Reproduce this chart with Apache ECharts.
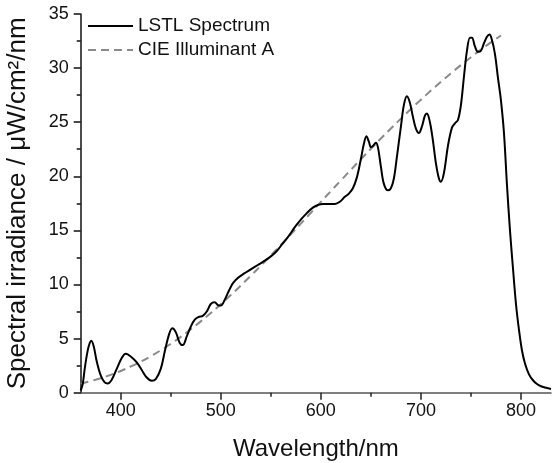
<!DOCTYPE html>
<html>
<head>
<meta charset="utf-8">
<script src="https://cdn.jsdelivr.net/npm/echarts@6/dist/echarts.min.js"></script>
<style>html,body{margin:0;padding:0;background:#fff;}#c{width:552px;height:463px;}</style>
</head>
<body>
<div id="c"></div>
<script>
// LSTL spectrum (wavelength nm, irradiance)
const lstlWavelength = [360,362,364,366,368,370.5,373,376,380,384,387,391,396,401,405,410,416,421,426,431,435,440,444,448,451.5,455,459,462,466,470,474,478,482,486,490,494,497,500,504,508,512,517,523,530,537,544,550,556,562,568,574,580,586,592,597,602,608,614,619,624,628,632,636,640,643,645.5,648,650,652,655,657,660,663,667,670,673,676,680,683,686,689,692,695,698,701,704,706,709,712,715,718,720,723,727,731,734,737,740,743,746,749,751,754,757,760,763,766,768.5,771,774,777,780,783,786,789,792,795,798,801,804,808,812,816,820,825,830];
const lstlValue = [0.2,0.8,2.2,3.4,4.3,4.8,4.3,2.9,1.6,0.95,0.85,1.2,2.2,3.2,3.6,3.35,2.8,2.1,1.4,1.1,1.25,2.2,3.8,5.3,5.95,5.6,4.6,4.4,5.2,6.1,6.75,7.0,7.1,7.5,8.2,8.35,8.1,8.05,8.6,9.4,10.1,10.6,11.0,11.4,11.8,12.2,12.6,13.1,13.8,14.5,15.3,16.0,16.6,17.1,17.35,17.45,17.45,17.45,17.65,18.1,18.4,18.9,19.9,21.6,23.0,23.7,23.2,22.7,22.8,23.1,22.7,20.9,19.3,18.7,18.9,19.8,21.8,24.6,26.6,27.4,26.8,25.5,24.4,24.0,24.6,25.6,25.8,25.0,23.3,21.2,19.8,19.5,20.3,22.8,24.5,24.9,25.2,26.6,29.2,31.6,32.8,32.8,32.0,31.5,31.6,32.3,32.9,33.1,32.6,31.3,29.1,27.0,24.0,19.2,15.0,11.5,8.2,5.8,3.9,2.7,1.7,1.15,0.8,0.6,0.45,0.35];
// CIE Illuminant A (scaled)
const cieWavelength = [360,370,380,390,400,410,420,430,440,450,460,470,480,490,500,510,520,530,540,550,560,570,580,590,600,610,620,630,640,650,660,670,680,690,700,710,720,730,740,750,760,770,780];
const cieValue = [0.84,1.07,1.34,1.65,2.01,2.42,2.87,3.37,3.92,4.52,5.16,5.86,6.59,7.36,8.18,9.02,9.90,10.81,11.74,12.69,13.66,14.64,15.63,16.63,17.63,18.63,19.62,20.60,21.58,22.54,23.49,24.42,25.33,26.22,27.08,27.92,28.73,29.52,30.28,31.01,31.71,32.38,33.01];
const xMajorTicks = [400,500,600,700,800];
const xMinorTicks = [450,550,650,750];
const seriesNames = ['LSTL Spectrum','CIE Illuminant A'];
const xTitle = 'Wavelength/nm';
const yTitle = 'Spectral irradiance / μW/cm²/nm';

const FONT = '"Liberation Sans", Arial, sans-serif';
const chart = echarts.init(document.getElementById('c'), null, {renderer:'canvas'});
const zip = (a,b) => a.map((v,i)=>[v,b[i]]);
chart.setOption({
  animation:false,
  backgroundColor:'#fff',
  textStyle:{fontFamily:FONT},
  grid:{left:80.7, right:1, top:14, bottom:70.3, containLabel:false, outerBoundsMode:'none'},
  legend:{
    orient:'vertical', left:82, top:11, itemWidth:45, itemHeight:14, itemGap:4,
    itemStyle:{opacity:0},
    textStyle:{fontFamily:FONT, fontSize:19, color:'#111', lineHeight:20},
    data:[{name:seriesNames[0]},{name:seriesNames[1]}]
  },
  xAxis:[{
    type:'value', min:360, max:830,
    name:xTitle, nameLocation:'middle', nameGap:45,
    nameTextStyle:{fontFamily:FONT, fontSize:24, color:'#111'},
    axisLine:{show:true, lineStyle:{color:'#555', width:1.5}},
    axisTick:{show:true, length:7, customValues:xMajorTicks, lineStyle:{color:'#222', width:1.5}},
    axisLabel:{customValues:xMajorTicks, fontFamily:FONT, fontSize:18, color:'#111', margin:9},
    splitLine:{show:false}
  },{
    type:'value', min:360, max:830, position:'bottom', offset:0,
    axisLine:{show:false},
    axisTick:{show:true, length:4, customValues:xMinorTicks, lineStyle:{color:'#222', width:1.5}},
    axisLabel:{show:false},
    splitLine:{show:false}
  }],
  yAxis:{
    type:'value', min:0, max:35, interval:5,
    name:yTitle, nameLocation:'middle', nameGap:50,
    nameTextStyle:{fontFamily:FONT, fontSize:26, color:'#111'},
    axisLine:{show:true, lineStyle:{color:'#111', width:1.5}},
    axisTick:{show:true, length:7, lineStyle:{color:'#111', width:1.5}},
    minorTick:{show:true, splitNumber:2, length:4, lineStyle:{color:'#111', width:1.5}},
    axisLabel:{fontFamily:FONT, fontSize:18, color:'#111', margin:12},
    splitLine:{show:false}
  },
  series:[{
    name:seriesNames[0], type:'line', xAxisIndex:0, data:zip(lstlWavelength,lstlValue),
    showSymbol:false, symbol:'none', smooth:0.35,
    lineStyle:{color:'#000', width:2}, itemStyle:{color:'#000'}, z:3
  },{
    name:seriesNames[1], type:'line', xAxisIndex:0, data:zip(cieWavelength,cieValue),
    showSymbol:false, symbol:'none', smooth:true,
    lineStyle:{color:'#8a8a8a', width:2, type:[8,5]}, itemStyle:{color:'#8a8a8a'}, z:2
  }]
});
</script>
</body>
</html>
